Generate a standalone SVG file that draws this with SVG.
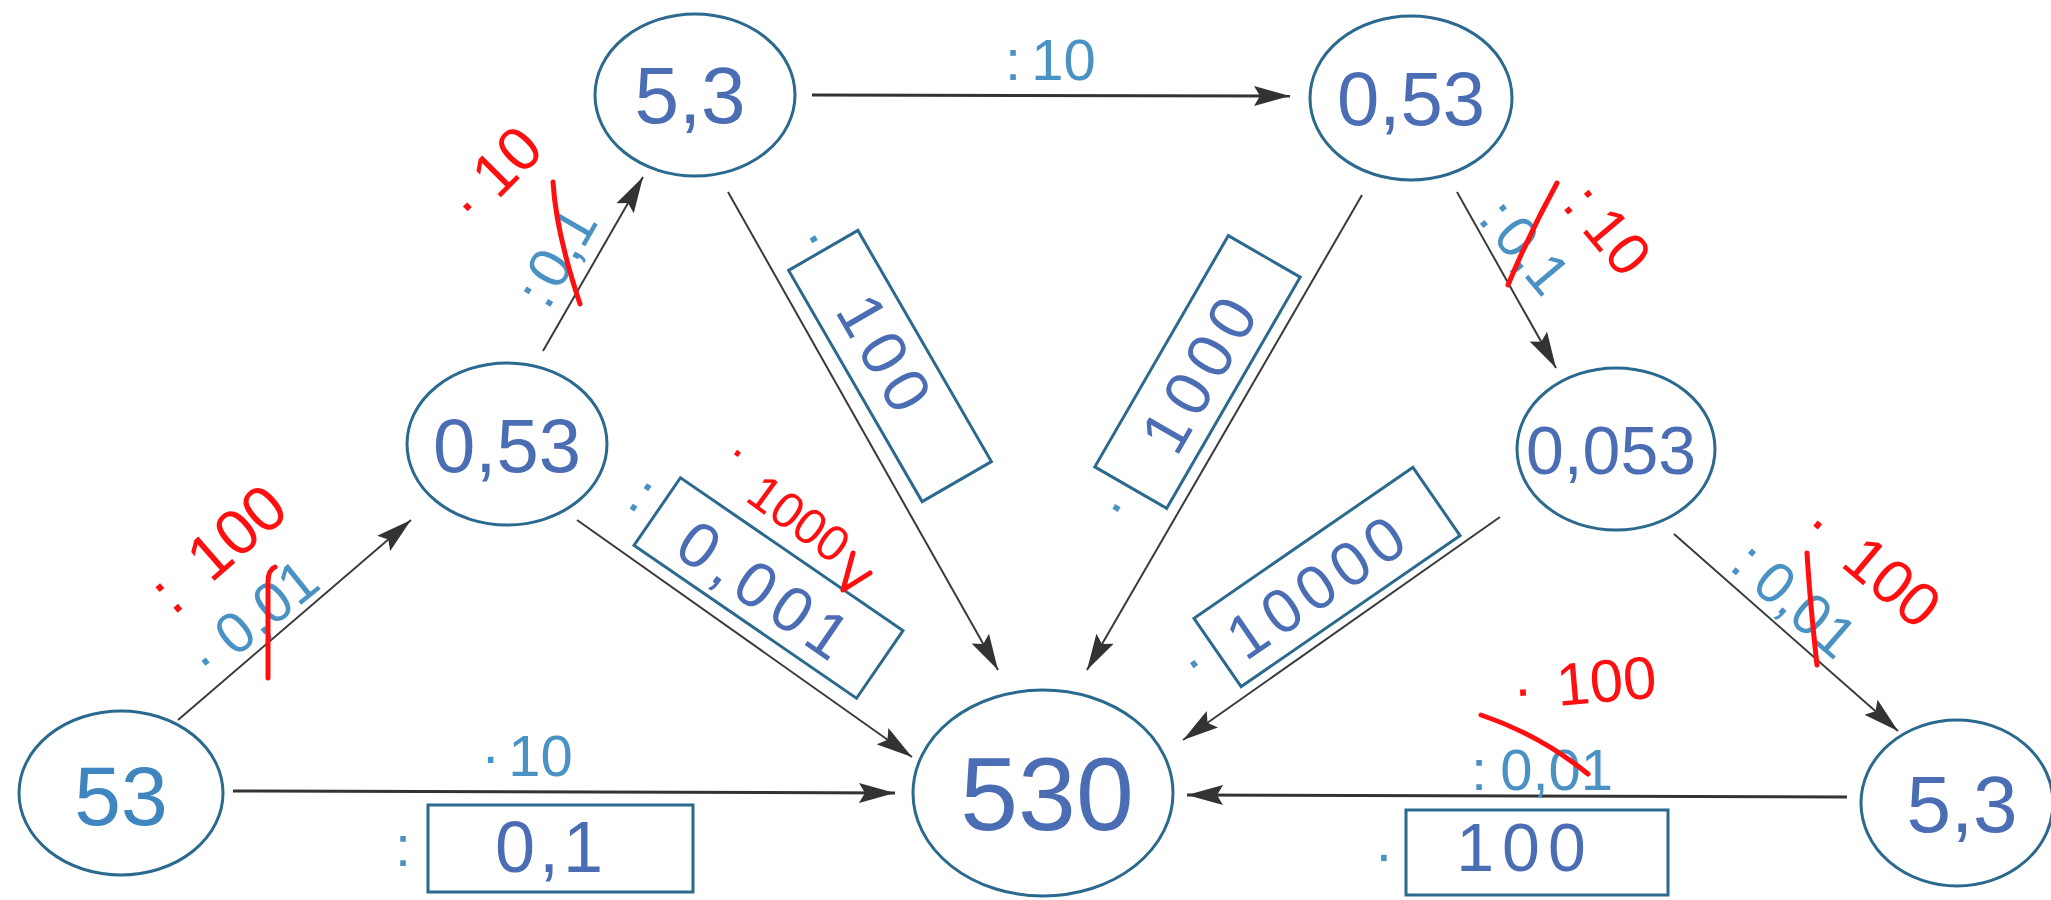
<svg xmlns="http://www.w3.org/2000/svg" width="2051" height="900" viewBox="0 0 2051 900">
<defs>
<style>
.nd{fill:#ffffff;stroke:#2b6a8e;stroke-width:3}
.val{font-family:"Liberation Sans",Arial,sans-serif;fill:#4a6db4;text-anchor:middle}
.prt{font-family:"Liberation Sans",Arial,sans-serif;fill:#3f86c0;text-anchor:middle}
.lbl{font-family:"Liberation Sans",Arial,sans-serif;fill:#4a92c4;font-size:58px}
.lblm{font-family:"Liberation Sans",Arial,sans-serif;fill:#4a92c4;font-size:58px;text-anchor:middle}
.box{fill:none;stroke:#2b6a8e;stroke-width:3}
.bt{font-family:"Liberation Sans",Arial,sans-serif;fill:#4a6db4;font-size:64px;letter-spacing:8px;text-anchor:middle}
.red{font-family:"Liberation Sans",Arial,sans-serif;fill:#ff0f0f}
.strike{fill:none;stroke:#ff0f0f;stroke-width:5;stroke-linecap:round;stroke-linejoin:round}
.edge{stroke:#3a3a3a;stroke-width:2;fill:none}
.edgeh{stroke:#333333;stroke-width:3;fill:none}
</style>
<marker id="ah" markerUnits="userSpaceOnUse" markerWidth="38" markerHeight="22" refX="36" refY="11" orient="auto">
<path d="M0,1 L36,11 L0,21 L6,11 z" fill="#333333"/>
</marker>
</defs>
<rect width="2051" height="900" fill="#ffffff"/>

<g id="connectors">
<line class="edge" x1="178" y1="720" x2="411" y2="520" marker-end="url(#ah)"/>
<line class="edge" x1="543" y1="351" x2="643" y2="177" marker-end="url(#ah)"/>
<line class="edgeh" x1="812" y1="95" x2="1290" y2="96" marker-end="url(#ah)"/>
<line class="edge" x1="1457" y1="192" x2="1556" y2="368" marker-end="url(#ah)"/>
<line class="edge" x1="1674" y1="534" x2="1898" y2="731" marker-end="url(#ah)"/>
<line class="edgeh" x1="1847" y1="797" x2="1187" y2="795" marker-end="url(#ah)"/>
<line class="edgeh" x1="233" y1="791" x2="895" y2="793" marker-end="url(#ah)"/>
<line class="edge" x1="577" y1="520" x2="912" y2="757" marker-end="url(#ah)"/>
<line class="edge" x1="728" y1="192" x2="998" y2="670" marker-end="url(#ah)"/>
<line class="edge" x1="1362" y1="195" x2="1087" y2="670" marker-end="url(#ah)"/>
<line class="edge" x1="1500" y1="517" x2="1183" y2="740" marker-end="url(#ah)"/>
</g>

<g id="node-53">
<ellipse class="nd" cx="121" cy="793" rx="102" ry="82"/>
<text class="prt" x="121" y="825" font-size="84">53</text>
</g>
<g id="node-0-53-left">
<ellipse class="nd" cx="507" cy="444" rx="100" ry="81"/>
<text class="val" x="507" y="472" font-size="76">0,53</text>
</g>
<g id="node-5-3-top">
<ellipse class="nd" cx="695" cy="95" rx="100" ry="81"/>
<text class="val" x="690" y="123" font-size="80">5,3</text>
</g>
<g id="node-0-53-right">
<ellipse class="nd" cx="1411" cy="98" rx="101" ry="82"/>
<text class="val" x="1411" y="125" font-size="76">0,53</text>
</g>
<g id="node-0-053">
<ellipse class="nd" cx="1616" cy="449" rx="99" ry="81"/>
<text class="val" x="1611" y="474" font-size="68">0,053</text>
</g>
<g id="node-530">
<ellipse class="nd" cx="1043" cy="793" rx="130" ry="103"/>
<text class="val" x="1047" y="830" font-size="104">530</text>
</g>
<g id="node-5-3-right">
<ellipse class="nd" cx="1957" cy="803" rx="96" ry="83"/>
<text class="val" x="1962" y="832" font-size="80">5,3</text>
</g>

<g id="labels">
<text class="lbl" transform="translate(276,625) rotate(-39)" x="-87.5" y="0">·<tspan dx="15.5">0,01</tspan></text>
<text class="lbl" transform="translate(579,257) rotate(-60)" x="-62.5" y="0">:<tspan dx="6">0,1</tspan></text>
<text class="lbl" x="1005" y="80">:<tspan dx="10">10</tspan></text>
<text class="lbl" transform="translate(1517,268) rotate(50)" x="-63" y="0">:<tspan dx="6.7">0,1</tspan></text>
<text class="lbl" transform="translate(1792,624) rotate(41)" x="-85" y="0">:<tspan dx="13">0,01</tspan></text>
<text class="lbl" x="1471" y="790">:<tspan dx="13">0,01</tspan></text>
<text class="lbl" x="481" y="776">·<tspan dx="8">10</tspan></text>
</g>

<g id="box-g">
<rect class="box" x="428" y="805" width="265" height="87"/>
<text class="lblm" x="403" y="866">:</text>
<text class="bt" x="551" y="872" style="font-size:72px;letter-spacing:4px">0,1</text>
</g>
<g id="box-f">
<rect class="box" x="1406" y="810" width="262" height="85"/>
<text class="lblm" x="1384" y="874">·</text>
<text class="bt" x="1525" y="871" style="font-size:68px">100</text>
</g>
<g id="box-h">
<rect class="box" transform="translate(768.5,588) rotate(34.5)" x="-135" y="-41" width="270" height="82"/>
<text class="lblm" transform="translate(632,510) rotate(34.5)" x="0" y="0">:</text>
<text class="bt" transform="translate(751,608) rotate(34.5)" x="4" y="0">0,001</text>
</g>
<g id="box-i">
<rect class="box" transform="translate(890,366) rotate(60)" x="-133.5" y="-40" width="267" height="80"/>
<text class="lblm" transform="translate(800,247) rotate(60)" x="0" y="0">·</text>
<text class="bt" transform="translate(865,364) rotate(60)" x="4" y="0">100</text>
</g>
<g id="box-j">
<rect class="box" transform="translate(1197.5,372) rotate(-60)" x="-133.5" y="-41.5" width="267" height="83"/>
<text class="lblm" transform="translate(1130,516) rotate(-60)" x="0" y="0">·</text>
<text class="bt" transform="translate(1218,386) rotate(-60)" x="4" y="0">1000</text>
</g>
<g id="box-k">
<rect class="box" transform="translate(1327,577) rotate(-34.6)" x="-133" y="-41.5" width="266" height="83"/>
<text class="lblm" transform="translate(1203,677) rotate(-34.6)" x="0" y="0">·</text>
<text class="bt" transform="translate(1328,605) rotate(-34.6)" x="3.5" y="0" style="font-size:62px;letter-spacing:7px">10000</text>
</g>

<g id="corrections">
<path class="strike" d="M275,567 Q268,570 268,582 L268,678"/>
<path class="strike" d="M553,182 Q556,232 580,304"/>
<path class="strike" d="M1557,183 Q1530,232 1508,285"/>
<path class="strike" d="M1807,553 Q1810,602 1817,665"/>
<path class="strike" d="M1481,715 Q1540,735 1588,774"/>
<path class="strike" d="M853,553 Q848,572 843,590 L870,573"/>
<text class="red" font-size="64" transform="translate(251,549) rotate(-41)" x="-103" y="0">:<tspan dx="32">100</tspan></text>
<text class="red" font-size="62" transform="translate(520,178) rotate(-45)" x="-68" y="0">·<tspan dx="15.5">10</tspan></text>
<text class="red" font-size="60" transform="translate(1602,255) rotate(50)" x="-64" y="0">:<tspan dx="13.6">10</tspan></text>
<text class="red" font-size="62" transform="translate(1876,596) rotate(40)" x="-100.6" y="0">·<tspan dx="31.6">100</tspan></text>
<text class="red" font-size="60" transform="rotate(-5,1580,690)" x="1513" y="704">·<tspan dx="24">100</tspan></text>
<text class="red" font-size="50" transform="translate(787,531) rotate(36)" x="-94" y="-20">·<tspan dx="24" dy="20">1000</tspan></text>
</g>
</svg>
